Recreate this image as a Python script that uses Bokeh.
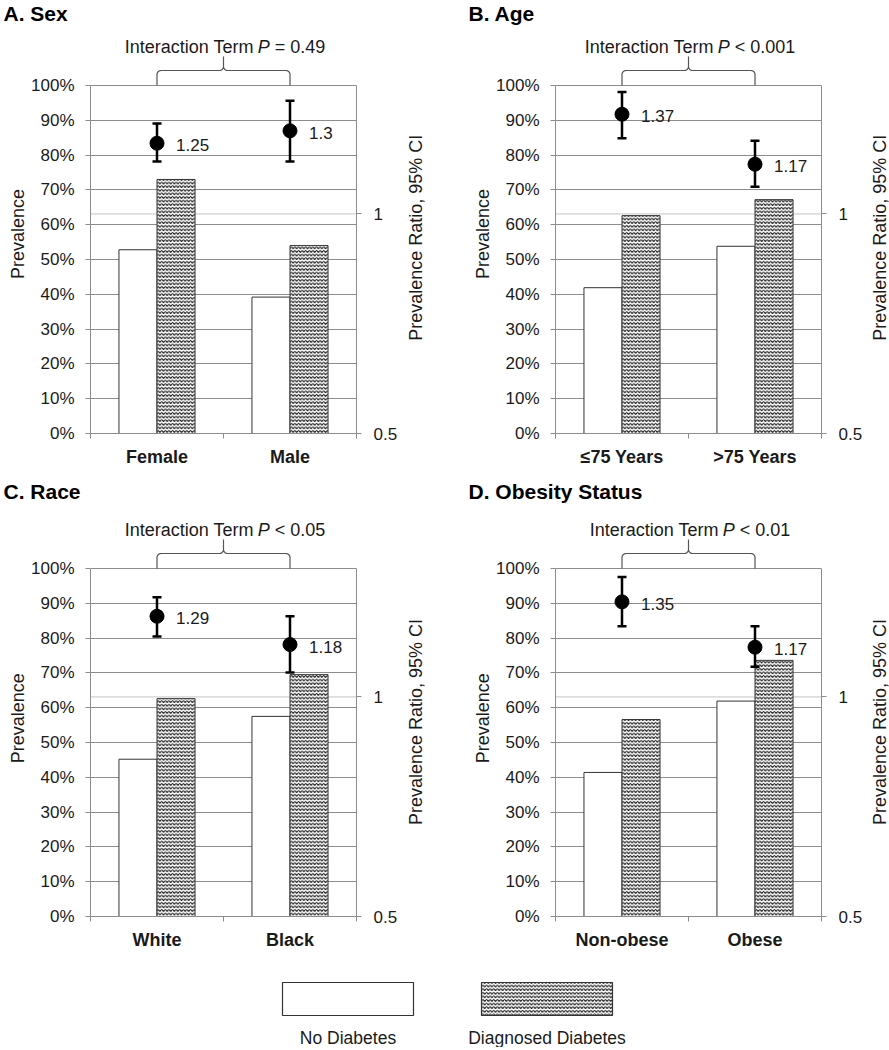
import math
from bokeh.plotting import figure
from bokeh.models import (Range1d, LogScale, LogAxis, FixedTicker, NumeralTickFormatter,
                          CustomJSTickFormatter, Span, Label)
from bokeh.layouts import column, row
from bokeh.embed import file_html
from bokeh.resources import INLINE
from bokeh.core.properties import value

# ---------------- data ----------------
panel_titles = ["A. Sex", "B. Age", "C. Race", "D. Obesity Status"]
categories = [["Female", "Male"], ["≤75 Years", ">75 Years"], ["White", "Black"], ["Non-obese", "Obese"]]
no_diabetes = [[0.528, 0.392], [0.419, 0.538], [0.452, 0.575], [0.414, 0.619]]
diagnosed = [[0.730, 0.540], [0.626, 0.672], [0.626, 0.695], [0.566, 0.736]]
ratio = [[1.25, 1.30], [1.37, 1.17], [1.29, 1.18], [1.35, 1.17]]
ratio_lo = [[1.18, 1.18], [1.27, 1.09], [1.21, 1.08], [1.25, 1.10]]
ratio_hi = [[1.33, 1.43], [1.47, 1.26], [1.37, 1.29], [1.46, 1.25]]
p_values = ["= 0.49", "< 0.001", "< 0.05", "< 0.01"]
legend_labels = ["No Diabetes", "Diagnosed Diabetes"]
y_label = "Prevalence"
y2_label = "Prevalence Ratio, 95% CI"
prev_ticks = [i / 10 for i in range(11)]
ratio_ticks = [0.5, 1.0]
ratio_min, ratio_max = 0.5, 1.5

# ---------------- style / layout ----------------
FONT = "Liberation Sans"
GRID = "#8c8c8c"
TXT = "#1a1a1a"
PX_Y = 348.0            # pixels for 0..100 %
FRAME_W = 266
PX_X = FRAME_W / 2.0
BAR_W = 0.286
HATCH = dict(hatch_pattern="horizontal_wave", hatch_color="#1e1e1e", hatch_scale=3.6, hatch_weight=1.1)

ARIAL = {' ': 278, 'I': 278, 'n': 556, 't': 278, 'e': 556, 'r': 333, 'a': 556, 'c': 500, 'i': 222,
         'o': 556, 'T': 611, 'm': 833, 'P': 667, '=': 584, '<': 584, '0': 556, '.': 278, '1': 556,
         '4': 556, '5': 556, '9': 556}


def tw(s, size):
    return sum(ARIAL[c] for c in s) * size / 1000.0


def blank(w, h):
    f = figure(width=w, height=h, x_range=Range1d(0, w), y_range=Range1d(0, h),
               x_axis_location=None, y_axis_location=None, min_border=0, title=None,
               output_backend="svg", toolbar_location=None, outline_line_color=None,
               background_fill_color="white", border_fill_color="white")
    f.grid.visible = False
    return f


def brace_xy(x0, x1, base):
    W = (x1 - x0) * PX_X
    r, h, tip = 4.0, 15.0, 29.0
    pts = [(0.0, 0.0), (0.0, h - r)]
    for k in range(1, 9):
        a = math.pi - k * (math.pi / 2) / 8
        pts.append((r + r * math.cos(a), (h - r) + r * math.sin(a)))
    pts.append((W / 2 - r, h))
    for k in range(1, 9):
        a = -math.pi / 2 + k * (math.pi / 2) / 8
        pts.append((W / 2 - r + r * math.cos(a), h + r + r * math.sin(a)))
    pts.append((W / 2, tip))
    right = [(W - px, py) for px, py in reversed(pts)]
    allp = pts + right[1:]
    xs = [x0 + px / PX_X for px, py in allp]
    ys = [base + py / PX_Y for px, py in allp]
    return xs, ys


def make_main(i, frame_h, border_bottom, border_right):
    ytop = frame_h / PX_Y
    p = figure(title=None, frame_width=FRAME_W, frame_height=frame_h,
               x_range=Range1d(0, 2), y_range=Range1d(0, ytop),
               min_border_left=61, min_border_right=border_right, min_border_top=0,
               min_border_bottom=border_bottom, output_backend="svg", toolbar_location=None,
               outline_line_color=None, background_fill_color="white", border_fill_color="white")
    p.extra_y_ranges = {"pr": Range1d(ratio_min, ratio_min * (ratio_max / ratio_min) ** ytop)}
    p.extra_y_scales = {"pr": LogScale()}

    ya = p.yaxis[0]
    ya.ticker = FixedTicker(ticks=prev_ticks)
    ya.formatter = NumeralTickFormatter(format="0%")
    ya.bounds = (0, 1)
    ya.axis_line_color = GRID
    ya.major_tick_line_color = GRID
    ya.major_tick_out = 5
    ya.major_tick_in = 0
    ya.minor_tick_line_color = None
    ya.minor_tick_out = 0
    ya.major_label_standoff = 11
    ya.major_label_text_font = FONT
    ya.major_label_text_font_size = "17px"
    ya.major_label_text_color = TXT

    ra = LogAxis(y_range_name="pr", ticker=FixedTicker(ticks=ratio_ticks),
                 formatter=NumeralTickFormatter(format="0.[0]"), bounds=(ratio_min, ratio_max),
                 axis_line_color=GRID, major_tick_line_color=GRID, major_tick_out=5, major_tick_in=0,
                 minor_tick_line_color=None, minor_tick_out=0, major_label_standoff=12,
                 major_label_text_font=FONT, major_label_text_font_size="17px",
                 major_label_text_color=TXT)
    p.add_layout(ra, "right")

    cats = categories[i]
    xa = p.xaxis[0]
    xa.ticker = FixedTicker(ticks=[k + 0.5 for k in range(len(cats))],
                            minor_ticks=[float(k) for k in range(len(cats) + 1)])
    xa.formatter = CustomJSTickFormatter(args=dict(labels=cats), code="return labels[Math.floor(tick)]")
    xa.axis_line_color = GRID
    xa.major_tick_line_color = None
    xa.major_tick_out = 0
    xa.major_tick_in = 0
    xa.minor_tick_line_color = GRID
    xa.minor_tick_out = 5
    xa.minor_tick_in = 0
    xa.major_label_standoff = 8
    xa.major_label_text_font = FONT
    xa.major_label_text_font_size = "18px"
    xa.major_label_text_font_style = "bold"
    xa.major_label_text_color = TXT

    p.xgrid.visible = False
    p.ygrid.ticker = FixedTicker(ticks=prev_ticks)
    p.ygrid.grid_line_color = GRID
    p.ygrid.grid_line_width = 1

    p.add_layout(Span(location=1.0, dimension="width", y_range_name="pr",
                      line_color="#c4c4c4", line_width=1, level="underlay"))

    xc = [k + 0.5 for k in range(len(cats))]
    p.vbar(x=[x - BAR_W / 2 for x in xc], top=no_diabetes[i], bottom=0, width=BAR_W,
           fill_color="white", line_color="#333333", line_width=1)
    p.vbar(x=[x + BAR_W / 2 for x in xc], top=diagnosed[i], bottom=0, width=BAR_W,
           fill_color="white", line_color="#333333", line_width=1, **HATCH)

    cap = 4.5 / PX_X
    p.segment(x0=xc, y0=ratio_lo[i], x1=xc, y1=ratio_hi[i], y_range_name="pr",
              line_color="black", line_width=2.5)
    p.segment(x0=[x - cap for x in xc], y0=ratio_lo[i], x1=[x + cap for x in xc], y1=ratio_lo[i],
              y_range_name="pr", line_color="black", line_width=2.5)
    p.segment(x0=[x - cap for x in xc], y0=ratio_hi[i], x1=[x + cap for x in xc], y1=ratio_hi[i],
              y_range_name="pr", line_color="black", line_width=2.5)
    p.scatter(x=xc, y=ratio[i], y_range_name="pr", size=14, fill_color="black", line_color="black")
    p.text(x=xc, y=ratio[i], text=[f"{v:g}" for v in ratio[i]], y_range_name="pr",
           x_offset=19, y_offset=2, text_baseline="middle", text_align="left",
           text_font=value(FONT), text_font_size="17px", text_color=TXT)

    bx, by = brace_xy(xc[0], xc[-1], 1.0)
    p.line(bx, by, line_color="#555555", line_width=1.2)
    fs = 18
    s1, s2, s3 = "Interaction Term", "P", p_values[i]
    sp = tw(" ", fs)
    total = tw(s1, fs) + sp + tw(s2, fs) + sp + tw(s3, fs)
    p_left = -total / 2 + tw(s1, fs) + sp
    ymid = 1.0 + 39 / PX_Y
    common = dict(y=ymid, text_font=FONT, text_font_size=f"{fs}px", text_color=TXT,
                  text_baseline="middle")
    cx = (xc[0] + xc[-1]) / 2
    p.add_layout(Label(x=cx, x_offset=p_left - sp + 1, text=s1, text_align="right", **common))
    p.add_layout(Label(x=cx, x_offset=p_left, text=s2, text_font_style="italic",
                       text_align="left", **common))
    p.add_layout(Label(x=cx, x_offset=p_left + tw(s2, fs) + sp, text=s3, text_align="left", **common))
    return p


def make_panel(i, panel_w, header_h, title_y, frame_h, border_bottom, border_right, right_w, right_cx):
    main_h = frame_h + border_bottom
    head = blank(panel_w, header_h)
    head.text(x=[3], y=[title_y], text=[panel_titles[i]], text_align="left", text_baseline="middle",
              text_font=value(FONT), text_font_size="21px", text_font_style="bold", text_color="black")
    left = blank(28, main_h)
    left.text(x=[17.5], y=[border_bottom + 178], text=[y_label], angle=math.pi / 2,
              text_align="center", text_baseline="middle", text_font=value(FONT),
              text_font_size="18px", text_color=TXT)
    right = blank(right_w, main_h)
    right.text(x=[right_cx], y=[border_bottom + 174], text=[y2_label], angle=math.pi / 2,
               text_align="center", text_baseline="middle", text_font=value(FONT),
               text_font_size="18px", text_color=TXT)
    main = make_main(i, frame_h, border_bottom, border_right)
    return column(head, row(left, main, right))


top_frame, top_bb, top_head = 407, 42, 26
bot_frame, bot_bb, bot_head = 411, 39, 30
pA = make_panel(0, 464, top_head, top_head - 13, top_frame, top_bb, 45, 64, 14)
pB = make_panel(1, 425, top_head, top_head - 13, top_frame, top_bb, 43, 27, 14)
pC = make_panel(2, 464, bot_head, bot_head - 16, bot_frame, bot_bb, 45, 64, 14)
pD = make_panel(3, 425, bot_head, bot_head - 16, bot_frame, bot_bb, 43, 27, 14)

# legend strip
LW, LH = 889, 92
lg = blank(LW, LH)
box_cx = [347.5, 546.5]
box_y = LH - 43.5
lg.rect(x=[box_cx[0]], y=[box_y], width=131, height=33, fill_color="white",
        line_color="#333333", line_width=1.2)
lg.rect(x=[box_cx[1]], y=[box_y], width=131, height=33, fill_color="white",
        line_color="#333333", line_width=1.2, **HATCH)
lg.text(x=box_cx, y=[LH - 82, LH - 82], text=legend_labels, text_align="center",
        text_baseline="middle", text_font=value(FONT), text_font_size="17.5px", text_color=TXT)

layout = column(row(pA, pB), row(pC, pD), lg)
open("out.html", "w").write(file_html(layout, INLINE))
